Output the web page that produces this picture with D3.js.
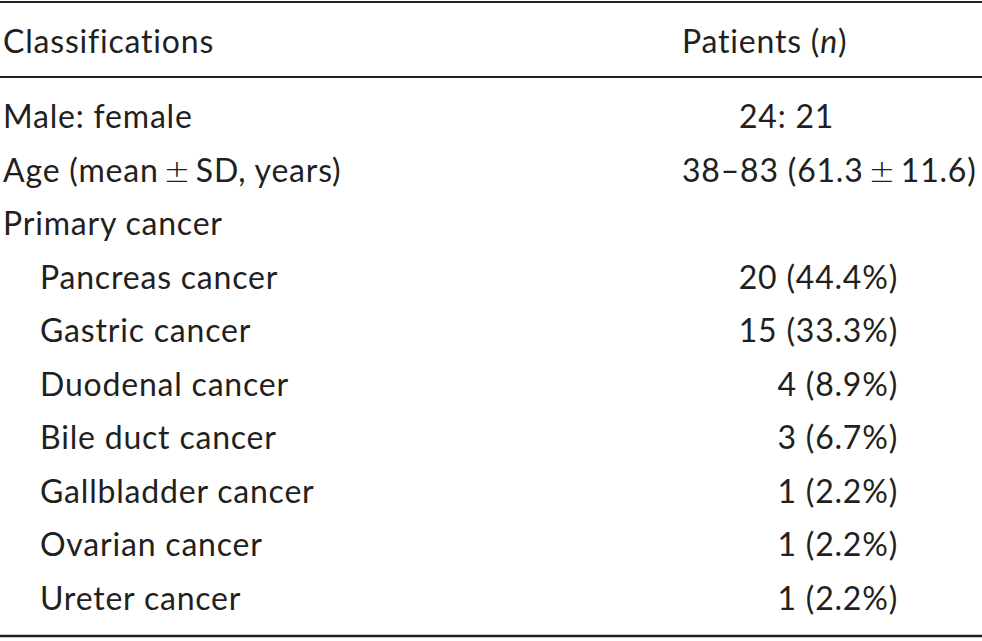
<!DOCTYPE html>
<html>
<head>
<meta charset="utf-8">
<script src="https://cdn.jsdelivr.net/npm/d3@7/dist/d3.min.js"></script>
<style>
  html, body { margin: 0; padding: 0; background: #fff; }
  svg { display: block; }
  text { font-family: Lato, "Open Sans", sans-serif; fill: #231f20; letter-spacing: 0.8px; }
  tspan.pm { font-family: "DejaVu Sans", sans-serif; font-weight: 300; }
</style>
</head>
<body>
<svg id="chart" width="982" height="641"></svg>
<script>
// ---- data ----
const headers = ["Classifications", "Patients (n)"];
const categories = [
  "Male: female",
  "Age (mean\u2009\u00b1\u2009SD, years)",
  "Primary cancer",
  "Pancreas cancer",
  "Gastric cancer",
  "Duodenal cancer",
  "Bile duct cancer",
  "Gallbladder cancer",
  "Ovarian cancer",
  "Ureter cancer"
];
const values = [
  "24: 21",
  "38\u201383 (61.3\u2009\u00b1\u200911.6)",
  "",
  "20 (44.4%)",
  "15 (33.3%)",
  "4 (8.9%)",
  "3 (6.7%)",
  "1 (2.2%)",
  "1 (2.2%)",
  "1 (2.2%)"
];
const subRow = [false, false, false, true, true, true, true, true, true, true];

// ---- layout ----
const W = 982, H = 641;
const svg = d3.select("#chart");
const fs = 32;

const y = d3.scaleLinear().domain([0, categories.length - 1]).range([128, 609.5]);
const x = d3.scaleOrdinal()
  .domain(["label", "sublabel", "valueStart", "valueEnd", "valueMale"])
  .range([3, 40, 682, 898, 739]);

// rules
const rules = [
  { y: 2, w: 2 },
  { y: 77, w: 2 },
  { y: 636, w: 2.5 }
];
svg.selectAll("line.rule").data(rules).join("line")
  .attr("class", "rule")
  .attr("x1", 0).attr("x2", W)
  .attr("y1", d => d.y).attr("y2", d => d.y)
  .attr("stroke", "#231f20").attr("stroke-width", d => d.w);

// write text, rendering the ± sign with a wider glyph
function fill(sel, s) {
  const parts = s.split("\u00b1");
  parts.forEach((p, k) => {
    if (k > 0) sel.append("tspan").attr("class", "pm").text("\u00b1");
    sel.append("tspan").text(p);
  });
}

// header
svg.append("text").attr("x", x("label")).attr("y", 53).attr("font-size", fs).text(headers[0]);
const h2 = svg.append("text").attr("x", x("valueStart")).attr("y", 53).attr("font-size", fs);
h2.append("tspan").text("Patients (");
h2.append("tspan").attr("font-style", "italic").text("n");
h2.append("tspan").text(")");

// body rows
const rows = categories.map((c, i) => ({ c, v: values[i], sub: subRow[i], i }));
svg.selectAll("text.cat").data(rows).join("text")
  .attr("class", "cat")
  .attr("font-size", fs)
  .attr("x", d => d.sub ? x("sublabel") : x("label"))
  .attr("y", d => y(d.i))
  .each(function (d) { fill(d3.select(this), d.c); });

svg.selectAll("text.val").data(rows.filter(d => d.v)).join("text")
  .attr("class", "val")
  .attr("font-size", fs)
  .attr("x", d => d.sub ? x("valueEnd") : (d.i === 0 ? x("valueMale") : x("valueStart")))
  .attr("text-anchor", d => d.sub ? "end" : "start")
  .attr("y", d => y(d.i))
  .each(function (d) { fill(d3.select(this), d.v); });
</script>
</body>
</html>
